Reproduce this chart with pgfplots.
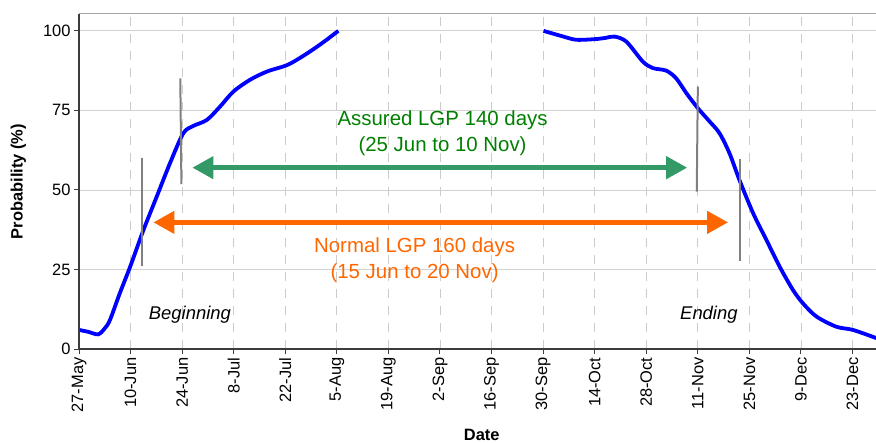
\documentclass[border=0pt]{standalone}
\usepackage{pgfplots}
\pgfplotsset{compat=1.18}
\usepackage{fontspec}
\setmainfont{Liberation Sans}
\usetikzlibrary{arrows.meta}
\definecolor{curveblue}{RGB}{0,0,255}
\definecolor{arrowgreen}{RGB}{51,153,102}
\definecolor{textgreen}{RGB}{0,128,0}
\definecolor{lgporange}{RGB}{255,102,0}
\definecolor{axisdark}{RGB}{60,60,60}
\begin{document}
\begin{tikzpicture}
\useasboundingbox (0,0) rectangle (876bp,443bp);
\begin{axis}[
  at={(79bp,94bp)}, anchor=south west,
  scale only axis, width=797.5bp, height=335bp,
  xmin=0, xmax=216.5, ymin=0, ymax=105.3,
  xtick={0,14,...,210},
  xticklabels={27-May,10-Jun,24-Jun,8-Jul,22-Jul,5-Aug,19-Aug,2-Sep,16-Sep,30-Sep,14-Oct,28-Oct,11-Nov,25-Nov,9-Dec,23-Dec},
  ytick={0,25,50,75,100},
  xtick pos=bottom, ytick pos=left,
  tick align=outside, major tick length=5bp,
  tick style={axisdark, line width=1bp},
  x tick label style={rotate=90, anchor=east, font=\fontsize{16.5}{18}\selectfont},
  y tick label style={font=\fontsize{16.5}{18}\selectfont},
  /pgf/number format/assume math mode=true,
  axis line style={gray!70, line width=1bp},
  xmajorgrids, ymajorgrids,
  major x grid style={gray!40, dash pattern=on 9bp off 8bp, line width=0.8bp},
  major y grid style={gray!35, line width=0.8bp},
  xlabel={Date}, ylabel={Probability (\%)},
  xlabel style={font=\fontsize{16.5}{18}\selectfont\bfseries, at={(axis description cs:0.505,-0.255)}, anchor=center},
  ylabel style={font=\fontsize{16.5}{18}\selectfont\bfseries, at={(axis description cs:-0.0759,0.5)}, anchor=center},
  clip=false,
]
% probability curve
\addplot[curveblue, line width=3.8bp, smooth, tension=0.5] coordinates {
(0,6.0) (2.5,5.4) (5.2,4.6) (7,6.5) (8.4,9.1) (11.1,17.6) (13.9,25.9) (17.5,37.4)
(21.1,47.9) (24.7,58.4) (28.3,67.8) (31,70.1) (34.7,72) (38.3,76.2) (41.9,80.9)
(46.4,84.6) (51,87.2) (56.4,89.2) (60,91.5) (63.6,94.2) (67,97) (70.4,100)};
\addplot[curveblue, line width=3.8bp, smooth, tension=0.5] coordinates {
(126.1,100) (131.5,98.2) (135,97.2) (140.1,97.4) (143,97.8) (145.4,98.2) (148.6,96.6)
(153.1,90.3) (155.8,88.3) (159.4,87.5) (162.1,85.1) (164.9,80.4) (168,75.7)
(171.2,71.5) (173.9,67.8) (176.6,61.5) (179.3,53.1) (183,42.7) (186.6,34.3)
(190.2,25.9) (193.8,18.6) (196.5,14.4) (200.2,10.2) (205.6,7.0) (210.1,6.0) (216.5,3.4)};
% LGP boundary markers
\addplot[gray, line width=2bp] coordinates {(17.2,26.2) (17.2,60)};
\addplot[gray, line width=2bp] coordinates {(27.8,51.8) (27.5,85.1)};
\addplot[gray, line width=2bp] coordinates {(167.7,49.5) (168.0,82.5)};
\addplot[gray, line width=2bp] coordinates {(179.5,27.7) (179.5,59.6)};
% LGP arrows
\addplot[arrowgreen, line width=4.5bp, {Triangle[length=21bp,width=22bp]}-{Triangle[length=21bp,width=22bp]}] coordinates {(30.8,57) (165.1,57)};
\addplot[lgporange, line width=4.5bp, {Triangle[length=21bp,width=22bp]}-{Triangle[length=21bp,width=22bp]}] coordinates {(20.2,39.8) (176.2,39.8)};
% texts
\node[text=textgreen, align=center, font=\fontsize{20.5}{26.5}\selectfont] at (axis cs:98.7,67.8) {Assured LGP 140 days\\(25 Jun to 10 Nov)};
\node[text=lgporange, align=center, font=\fontsize{20.5}{26.5}\selectfont] at (axis cs:91.1,28) {Normal LGP 160 days\\(15 Jun to 20 Nov)};
\node[font=\fontsize{18.5}{20}\selectfont\itshape] at (axis cs:30.1,10.7) {Beginning};
\node[font=\fontsize{18.5}{20}\selectfont\itshape] at (axis cs:171,10.7) {Ending};
% dark left and bottom axis lines
\draw[axisdark, line width=1.2bp] (rel axis cs:0,1) -- (rel axis cs:0,0) -- (rel axis cs:1,0);
\end{axis}
\end{tikzpicture}
\end{document}
